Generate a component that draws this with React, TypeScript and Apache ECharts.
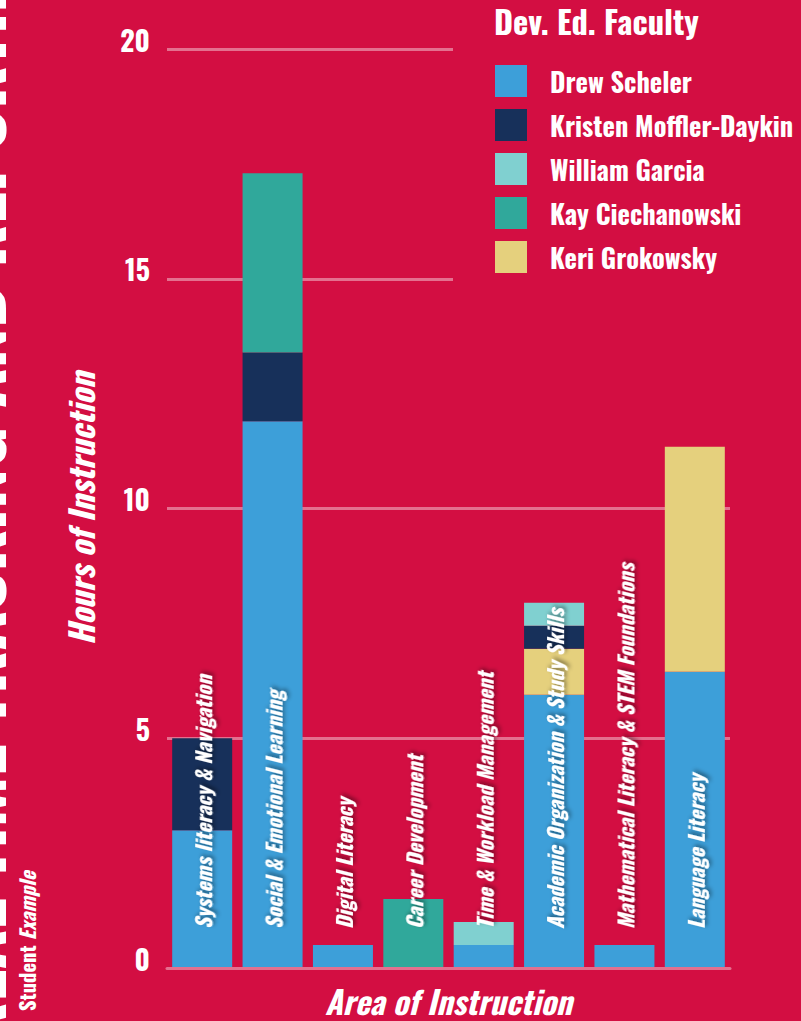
import React, { useEffect, useRef } from "react";
import * as echarts from "echarts";

const categories = [
  "Systems literacy & Navigation",
  "Social & Emotional Learning",
  "Digital Literacy",
  "Career Development",
  "Time & Workload Management",
  "Academic Organization & Study Skills",
  "Mathematical Literacy & STEM Foundations",
  "Language Literacy",
];

const drewScheler = [3, 11.9, 0.5, 0, 0.5, 5.95, 0.5, 6.45];
const keriGrokowsky = [0, 0, 0, 0, 0, 1, 0, 4.9];
const kristenMofflerDaykin = [2, 1.5, 0, 0, 0, 0.5, 0, 0];
const williamGarcia = [0, 0, 0, 0, 0.5, 0.5, 0, 0];
const kayCiechanowski = [0, 3.9, 0, 1.5, 0, 0, 0, 0];

const legendOrder = [
  "Drew Scheler",
  "Kristen Moffler-Daykin",
  "William Garcia",
  "Kay Ciechanowski",
  "Keri Grokowsky",
];

const yTicks = [0, 5, 10, 15, 20];

const BG = "#d30e42";
const GRIDC = "#e4708f";
const FONT = "Oswald, 'Roboto Condensed', sans-serif";

export default function App() {
  const ref = useRef<HTMLDivElement>(null);
  useEffect(() => {
    if (!ref.current) return;
    const chart = echarts.init(ref.current, null, { renderer: "svg" });
    const mk = (name: string, data: number[], color: string) => ({
      name,
      type: "bar",
      stack: "total",
      data,
      barWidth: 60,
      itemStyle: { color },
      emphasis: { disabled: true },
    });
    chart.setOption({
      animation: false,
      backgroundColor: BG,
      textStyle: { fontFamily: FONT },
      title: {
        text: "Dev. Ed. Faculty",
        left: 494,
        top: 3,
        padding: 0,
        textStyle: { color: "#fff", fontSize: 32.5, fontWeight: "bold", fontFamily: FONT },
      },
      legend: {
        orient: "vertical",
        left: 453,
        top: 0,
        padding: [65, 10, 12, 42],
        itemWidth: 32,
        itemHeight: 32,
        itemGap: 12,
        icon: "rect",
        backgroundColor: BG,
        selectedMode: false,
        data: legendOrder,
        textStyle: {
          color: "#fff",
          fontSize: 26.4,
          fontWeight: "bold",
          fontFamily: FONT,
          padding: [0, 0, 0, 18],
        },
      },
      grid: { left: 167, width: 563, top: 49.3, height: 920 },
      xAxis: {
        type: "category",
        data: categories,
        z: 10,
        axisTick: { show: false },
        axisLine: { lineStyle: { color: GRIDC, width: 3 } },
        axisLabel: {
          inside: true,
          rotate: 90,
          margin: 39,
          interval: 0,
          color: "#fff",
          fontSize: 21,
          fontWeight: "bold",
          fontStyle: "italic",
          fontFamily: FONT,
          textShadowColor: "rgba(0,0,0,0.45)",
          textShadowBlur: 4,
          textShadowOffsetX: 2,
          textShadowOffsetY: 2,
        },
        name: "Area of Instruction",
        nameLocation: "middle",
        nameGap: 16,
        nameTextStyle: {
          color: "#fff",
          fontSize: 32,
          fontWeight: "bold",
          fontStyle: "italic",
          fontFamily: FONT,
        },
      },
      yAxis: {
        type: "value",
        min: yTicks[0],
        max: yTicks[yTicks.length - 1],
        interval: 5,
        axisLine: { show: false },
        axisTick: { show: false },
        splitLine: { lineStyle: { color: GRIDC, width: 3 } },
        axisLabel: {
          margin: 17,
          color: "#fff",
          fontSize: 28,
          lineHeight: 20,
          fontWeight: "bold",
          fontFamily: FONT,
          verticalAlign: "bottom",
        },
        name: "Hours of Instruction",
        nameLocation: "middle",
        nameGap: 70,
        nameTextStyle: {
          color: "#fff",
          fontSize: 33,
          fontWeight: "bold",
          fontStyle: "italic",
          fontFamily: FONT,
        },
      },
      series: [
        mk("Drew Scheler", drewScheler, "#3d9fd9"),
        mk("Keri Grokowsky", keriGrokowsky, "#e5d07d"),
        mk("Kristen Moffler-Daykin", kristenMofflerDaykin, "#17305a"),
        mk("William Garcia", williamGarcia, "#80d0d0"),
        mk("Kay Ciechanowski", kayCiechanowski, "#30a89b"),
      ],
      graphic: [
        {
          type: "text",
          x: 9,
          y: 1045,
          rotation: Math.PI / 2,
          silent: true,
          style: {
            text: "REAL-TIME TRACKING AND REPORTING",
            fill: "#fff",
            font: `bold 72px ${FONT}`,
            textAlign: "left",
            textVerticalAlign: "bottom",
          },
        },
        {
          type: "text",
          x: 37,
          y: 1011,
          rotation: Math.PI / 2,
          silent: true,
          style: {
            text: "{a|Student }{b|Example}",
            fill: "#fff",
            textAlign: "left",
            textVerticalAlign: "bottom",
            rich: {
              a: { fill: "#fff", fontSize: 20.5, fontWeight: "bold", fontFamily: FONT },
              b: { fill: "#fff", fontSize: 20.5, fontWeight: "bold", fontStyle: "italic", fontFamily: FONT },
            },
          },
        },
      ],
    });
    return () => chart.dispose();
  }, []);
  return (
    <div
      ref={ref}
      style={{ position: "absolute", left: 0, top: 0, width: 801, height: 1021 }}
    />
  );
}
